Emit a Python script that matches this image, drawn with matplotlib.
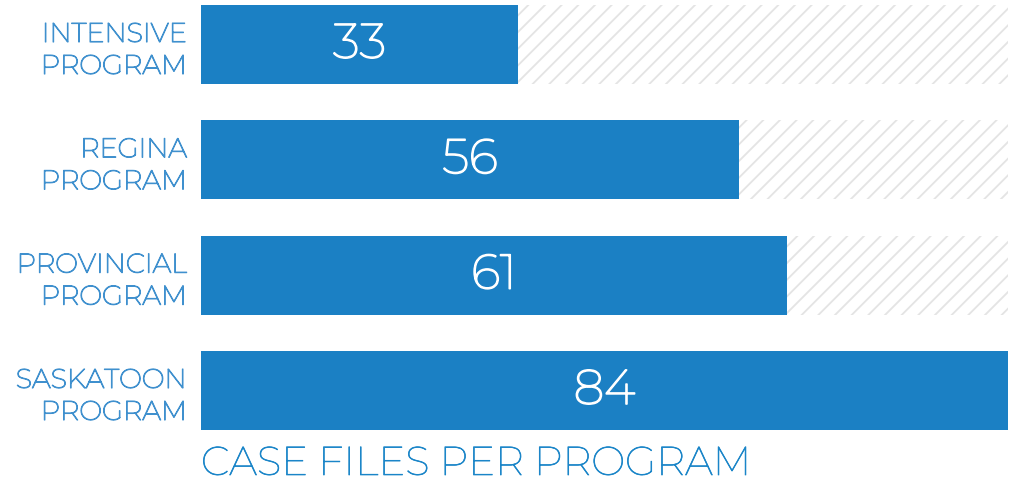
import matplotlib
matplotlib.use("Agg")
import matplotlib.pyplot as plt
import matplotlib.patheffects as pe

programs = ["INTENSIVE\nPROGRAM", "REGINA\nPROGRAM", "PROVINCIAL\nPROGRAM", "SASKATOON\nPROGRAM"]
case_files = [33, 56, 61, 84]
title = "CASE FILES PER PROGRAM"

bar_color = "#1b80c4"
label_color = "#3f90ce"
title_color = "#1a85c8"
hatch_color = "#e4e4e4"
fonts = ["Montserrat", "DejaVu Sans"]

plt.rcParams["hatch.linewidth"] = 1.3
plt.rcParams["hatch.color"] = hatch_color

fig = plt.figure(figsize=(10.25, 4.82), dpi=100)
ax = fig.add_axes([201 / 1025, 1 - 430 / 482, 807 / 1025, 425 / 482])

pos = list(range(len(programs)))
h = 0.685
full = max(case_files)

# hatched background showing the remainder up to the max
ax.barh(pos, [full] * len(pos), height=h, color="white", edgecolor=hatch_color,
        hatch="//", linewidth=0)
ax.barh(pos, case_files, height=h, color=bar_color, linewidth=0)

# the installed Montserrat is thin, so thicken strokes a bit
for p, v in zip(pos, case_files):
    ax.text(v / 2, p, str(v), ha="center", va="center", color="white",
            fontsize=35, family=fonts,
            path_effects=[pe.withStroke(linewidth=1.2, foreground="white")])

ax.set_xlim(0, full)
ax.set_ylim(len(pos) - 1 + h / 2, -h / 2)
ax.set_yticks(pos)
ax.set_yticklabels(programs, color=label_color, fontsize=19.5, linespacing=1.35,
                   family=fonts,
                   path_effects=[pe.withStroke(linewidth=0.8, foreground=label_color)])
ax.tick_params(axis="y", length=0, pad=10)
ax.set_xticks([])
for s in ax.spines.values():
    s.set_visible(False)

fig.text(201 / 1025, 1 - 475 / 482, title, ha="left", va="baseline",
         color=title_color, fontsize=29, family=fonts,
         path_effects=[pe.withStroke(linewidth=0.5, foreground=title_color)])

fig.savefig("out.png", dpi=100)
